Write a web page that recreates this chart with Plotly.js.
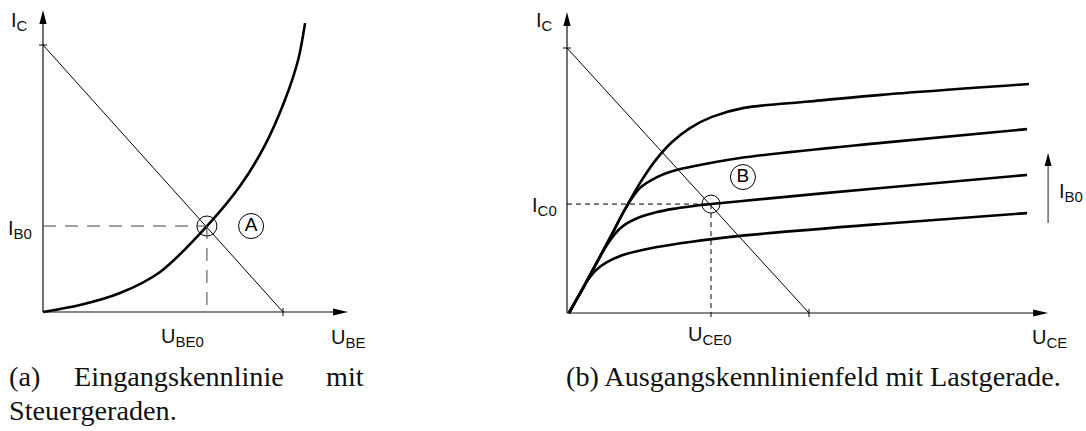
<!DOCTYPE html>
<html>
<head>
<meta charset="utf-8">
<script src="https://cdn.plot.ly/plotly-3.0.1.min.js"></script>
<style>
  html, body { margin: 0; padding: 0; background: #fff; }
  #chart { width: 1086px; height: 431px; }
</style>
</head>
<body>
<div id="chart"></div>
<script>
const W = 1086, H = 431;

// (a) Input characteristic I_C(U_BE) and control line
const inputU = [0, 1.54, 3.21, 4.88, 6.83, 8.21, 9.25, 10.08, 10.63, 10.92];
const inputI = [0, 0.26, 0.71, 1.50, 3.22, 4.72, 6.25, 7.94, 9.44, 10.82];
const ctrlU = [0, 10];
const ctrlI = [10, 0];
const pointA = [6.83, 3.22];
const badgeA = [8.67, 3.22];

// (b) Output characteristics for four base currents, plus load line
const outU1 = [0.08, 0.50, 0.87, 1.20, 1.65, 2.31, 3.02, 3.72, 5.08, 7.15, 12.98, 19.01];
const outI1 = [0, 0.68, 1.25, 1.62, 1.92, 2.19, 2.36, 2.49, 2.68, 2.91, 3.36, 3.77];
const outU2 = [0.08, 0.66, 1.24, 1.57, 1.94, 2.31, 3.02, 3.72, 4.38, 5.08, 5.95, 7.15, 12.98, 19.01];
const outI2 = [0, 0.94, 1.92, 2.45, 2.94, 3.28, 3.62, 3.81, 3.93, 4.02, 4.11, 4.22, 4.72, 5.21];
const outU3 = [0.08, 0.66, 1.24, 1.82, 2.40, 3.02, 3.72, 4.38, 5.08, 7.15, 12.98, 19.01];
const outI3 = [0, 0.94, 1.92, 2.91, 3.92, 4.72, 5.13, 5.36, 5.51, 5.85, 6.42, 6.94];
const outU4 = [0.08, 0.66, 1.24, 1.82, 2.40, 3.02, 3.64, 4.34, 5.08, 5.99, 7.31, 10.0, 12.98, 19.09];
const outI4 = [0, 0.94, 1.92, 2.91, 3.92, 4.91, 5.74, 6.45, 6.98, 7.40, 7.74, 7.98, 8.23, 8.64];
const loadU = [0, 10];
const loadI = [10, 0];
const pointB = [5.95, 4.11];
const badgeB = [7.27, 5.13];
const ibArrow = [19.88, 3.40, 6.04];   // U position, I from, I to

// Axis frames: origin in pixels, pixels per unit, visible ranges
const FL = { ox: 43, oy: 312, sx: 24, sy: 26.7, xr: [-0.6, 13], yr: [-0.6, 11.6], tipX: 12.71, tipY: 11.31, xa: 'x', ya: 'y' };
const FR = { ox: 567, oy: 313, sx: 24.2, sy: 26.5, xr: [-0.6, 20.5], yr: [-0.6, 11.7], tipX: 19.88, tipY: 11.36, xa: 'x2', ya: 'y2' };

function axisOf(f, horizontal) {
  const base = { visible: false, fixedrange: true, showgrid: false, zeroline: false };
  if (horizontal) {
    return Object.assign(base, { range: f.xr, domain: [(f.ox + f.xr[0] * f.sx) / W, (f.ox + f.xr[1] * f.sx) / W], anchor: f.ya });
  }
  return Object.assign(base, { range: f.yr, domain: [(H - (f.oy - f.yr[0] * f.sy)) / H, (H - (f.oy - f.yr[1] * f.sy)) / H], anchor: f.xa });
}

function line(f, x0, y0, x1, y1, opts) {
  return Object.assign({ type: 'line', xref: f.xa, yref: f.ya, x0, y0, x1, y1, line: { color: '#000', width: 1 } }, opts || {});
}
function head(f, tx, ty, dir, len, half, color) {
  const lx = len / f.sx, ly = len / f.sy, hx = half / f.sx, hy = half / f.sy;
  const p = dir === 'right'
    ? `M${tx},${ty} L${tx - lx},${ty + hy} L${tx - lx},${ty - hy} Z`
    : `M${tx},${ty} L${tx - hx},${ty - ly} L${tx + hx},${ty - ly} Z`;
  return { type: 'path', xref: f.xa, yref: f.ya, path: p, fillcolor: color || '#000', line: { width: 0 } };
}
function axes(f) {
  const shapes = [];
  shapes.push(line(f, 0, 0, f.tipX - 12 / f.sx, 0, { line: { color: '#111', width: 1.2 } }));
  shapes.push(line(f, 0, 0, 0, f.tipY - 12 / f.sy, { line: { color: '#111', width: 1.2 } }));
  shapes.push(head(f, f.tipX, 0, 'right', 15, 3.6));
  shapes.push(head(f, 0, f.tipY, 'up', 14, 3.6));
  return shapes;
}
function ticks(f, u, i) {
  return [
    line(f, -4 / f.sx, i, 4 / f.sx, i),
    line(f, u, -4 / f.sy, u, 4 / f.sy)
  ];
}

const curve = (x, y, xa, ya) => ({
  x, y, xaxis: xa, yaxis: ya, type: 'scatter', mode: 'lines', hoverinfo: 'skip',
  line: { color: '#000', width: 2.6, shape: 'spline', smoothing: 0.9 }
});
const thin = (x, y, xa, ya) => ({
  x, y, xaxis: xa, yaxis: ya, type: 'scatter', mode: 'lines', hoverinfo: 'skip',
  line: { color: '#000', width: 1 }
});
const ring = (p, size, xa, ya) => ({
  x: [p[0]], y: [p[1]], xaxis: xa, yaxis: ya, type: 'scatter', mode: 'markers', hoverinfo: 'skip', cliponaxis: false,
  marker: { symbol: 'circle-open', size, color: '#000', line: { width: 1, color: '#000' } }
});
const badge = (p, letter, xa, ya) => ({
  x: [p[0]], y: [p[1]], xaxis: xa, yaxis: ya, type: 'scatter', mode: 'markers+text', hoverinfo: 'skip', cliponaxis: false,
  text: [letter], textposition: 'middle center',
  textfont: { family: 'Liberation Sans, Arial, sans-serif', size: 19, color: '#000' },
  marker: { symbol: 'circle-open', size: 25, color: '#000', line: { width: 1, color: '#000' } }
});

const traces = [
  curve(inputU, inputI, 'x', 'y'),
  thin(ctrlU, ctrlI, 'x', 'y'),
  ring(pointA, 20, 'x', 'y'),
  badge(badgeA, 'A', 'x', 'y'),
  curve(outU1, outI1, 'x2', 'y2'),
  curve(outU2, outI2, 'x2', 'y2'),
  curve(outU3, outI3, 'x2', 'y2'),
  curve(outU4, outI4, 'x2', 'y2'),
  thin(loadU, loadI, 'x2', 'y2'),
  ring(pointB, 18, 'x2', 'y2'),
  badge(badgeB, 'B', 'x2', 'y2')
];

const shapes = [].concat(
  axes(FL), axes(FR),
  ticks(FL, ctrlU[1], ctrlI[0]),
  ticks(FR, loadU[1], loadI[0]),
  [
    line(FL, 0, pointA[1], pointA[0], pointA[1], { line: { color: '#444', width: 1, dash: '13px,9px' } }),
    line(FL, pointA[0], pointA[1], pointA[0], 0, { line: { color: '#444', width: 1, dash: '13px,9px' } }),
    line(FR, 0, pointB[1], pointB[0], pointB[1], { line: { color: '#000', width: 1, dash: '5px,4px' } }),
    line(FR, pointB[0], pointB[1], pointB[0], -4 / FR.sy, { line: { color: '#000', width: 1, dash: '5px,4px' } }),
    line(FR, ibArrow[0], ibArrow[1], ibArrow[0], ibArrow[2] - 11 / FR.sy, { line: { color: '#555', width: 1.3 } }),
    head(FR, ibArrow[0], ibArrow[2], 'up', 13, 3.5)
  ]
);

const SANS = 'Liberation Sans, Arial, sans-serif';
const SERIF = 'Liberation Serif, Times New Roman, serif';
// symbol with a subscript index
const sym = (base, idx) => `${base}<sub><span style="font-size:15px">${idx}</span></sub>`;
function label(text, px, py, xanchor, yanchor, size) {
  return {
    text, x: px / W, y: 1 - py / H, xref: 'paper', yref: 'paper',
    xanchor, yanchor, showarrow: false,
    font: { family: SANS, size: size || 20, color: '#111' }
  };
}
function caption(text, px, py, xanchor) {
  return {
    text, x: px / W, y: 1 - py / H, xref: 'paper', yref: 'paper',
    xanchor, yanchor: 'middle', showarrow: false,
    font: { family: SERIF, size: 28.2, color: '#111' }
  };
}

const annotations = [
  label(sym('I', 'C'), 9, 22, 'left', 'middle'),
  label(sym('I', 'B0'), 34, 229, 'right', 'middle'),
  label(sym('U', 'BE0'), 206, 337, 'right', 'middle'),
  label(sym('U', 'BE'), 329, 338, 'left', 'middle'),
  label(sym('I', 'C'), 534, 22, 'left', 'middle'),
  label(sym('I', 'C0'), 559, 206, 'right', 'middle'),
  label(sym('U', 'CE0'), 710, 335, 'center', 'middle'),
  label(sym('U', 'CE'), 1030, 338, 'left', 'middle'),
  label(sym('I', 'B0'), 1057, 192, 'left', 'middle'),
  caption('(a)', 7, 376, 'left'),
  caption('Eingangskennlinie', 72, 376, 'left'),
  caption('mit', 366, 376, 'right'),
  caption('Steuergeraden.', 7, 410, 'left'),
  caption('(b) Ausgangskennlinienfeld mit Lastgerade.', 813, 376, 'center')
];

const layout = {
  width: W, height: H,
  margin: { l: 0, r: 0, t: 0, b: 0 },
  paper_bgcolor: '#fff', plot_bgcolor: 'rgba(0,0,0,0)',
  showlegend: false,
  xaxis: axisOf(FL, true), yaxis: axisOf(FL, false),
  xaxis2: axisOf(FR, true), yaxis2: axisOf(FR, false),
  shapes, annotations
};

Plotly.newPlot('chart', traces, layout, { staticPlot: true, displayModeBar: false });
</script>
</body>
</html>
